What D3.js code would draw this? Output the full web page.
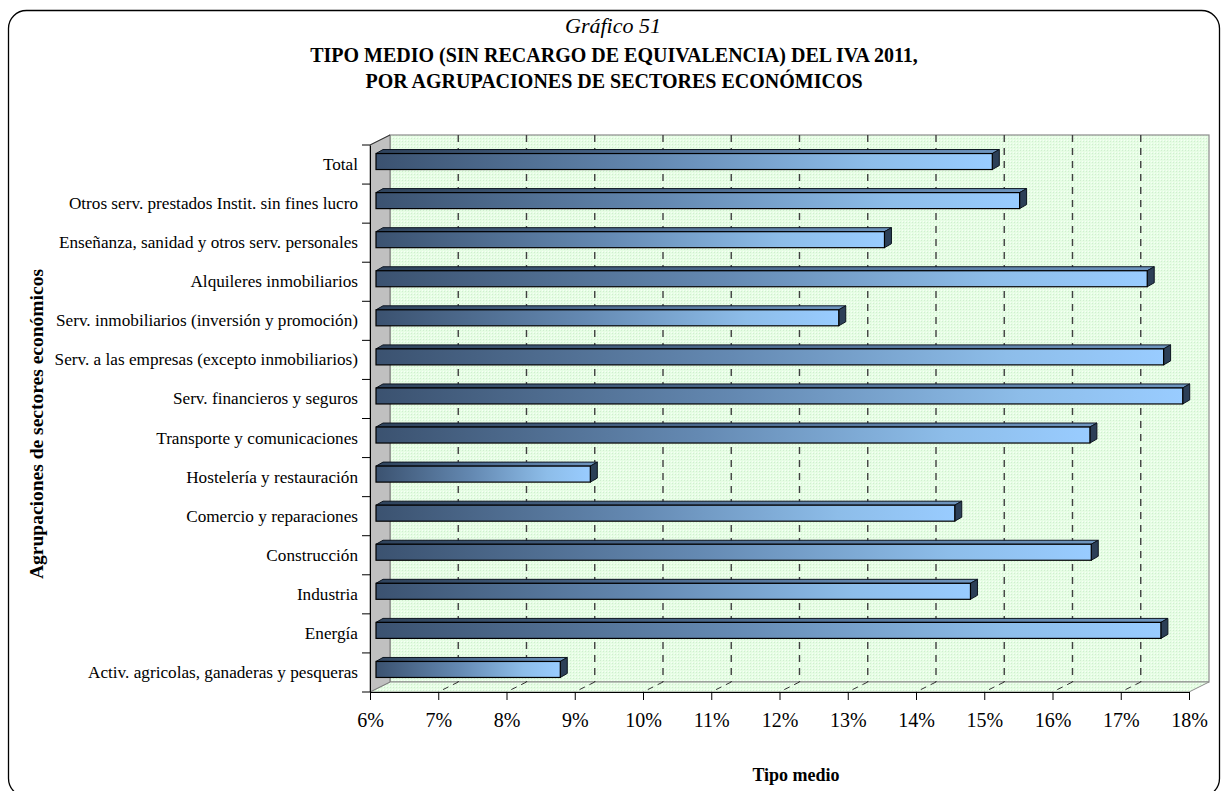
<!DOCTYPE html>
<html>
<head>
<meta charset="utf-8">
<script src="https://cdn.jsdelivr.net/npm/d3@7"></script>
<style>
  body { margin: 0; background: #fff; }
  svg { display: block; font-family: "Liberation Serif", "Times New Roman", serif; }
</style>
</head>
<body>
<svg id="chart" width="1229" height="791"></svg>
<script>
const categories = [
  "Total",
  "Otros serv. prestados Instit. sin fines lucro",
  "Enseñanza, sanidad y otros serv. personales",
  "Alquileres inmobiliarios",
  "Serv. inmobiliarios (inversión y promoción)",
  "Serv. a las empresas (excepto inmobiliarios)",
  "Serv. financieros y seguros",
  "Transporte y comunicaciones",
  "Hostelería y restauración",
  "Comercio y reparaciones",
  "Construcción",
  "Industria",
  "Energía",
  "Activ. agricolas, ganaderas y pesqueras"
];
const tipoMedio = [15.03, 15.43, 13.45, 17.30, 12.78, 17.54, 17.82, 16.46, 9.14, 14.48, 16.48, 14.71, 17.50, 8.70];
const xTicks = [6, 7, 8, 9, 10, 11, 12, 13, 14, 15, 16, 17, 18];

const svg = d3.select("#chart");

// front plane of the 3d box
const plotL = 370, plotR = 1189, plotT = 145, plotB = 692;
const depthX = 20, depthY = -10;       // full wall depth
const barOffX = 6, barOffY = -3;       // bar front plane inside the box
const barDX = 7, barDY = -4;           // bar thickness
const barH = 16;

const x = d3.scaleLinear().domain([6, 18]).range([plotL, plotR]);
const y = d3.scaleBand().domain(categories).range([plotT, plotB]);

const defs = svg.append("defs");
const pat = defs.append("pattern").attr("id", "dots").attr("patternUnits", "userSpaceOnUse")
  .attr("width", 3).attr("height", 3);
pat.append("rect").attr("width", 3).attr("height", 3).attr("fill", "#e6fde4");
pat.append("rect").attr("width", 1).attr("height", 1).attr("fill", "#cfeecf");
pat.append("rect").attr("x", 2).attr("y", 2).attr("width", 1).attr("height", 1).attr("fill", "#f6fff6");

function grad(id, stops) {
  const g = defs.append("linearGradient").attr("id", id).attr("x1", 0).attr("x2", 1).attr("y1", 0).attr("y2", 0);
  stops.forEach(([o, c]) => g.append("stop").attr("offset", o).attr("stop-color", c));
}
grad("barFront", [[0, "#3b5270"], [0.45, "#6489b2"], [0.8, "#8dbde9"], [1, "#99ccff"]]);
grad("barTop", [[0, "#2f435c"], [0.5, "#4f6e93"], [1, "#6f96c0"]]);

// outer frame
svg.append("rect").attr("x", 8.5).attr("y", 10.5).attr("width", 1211).attr("height", 786)
  .attr("rx", 18).attr("fill", "none").attr("stroke", "#000").attr("stroke-width", 1.3);

// titles
svg.append("text").attr("x", 613).attr("y", 33).attr("text-anchor", "middle")
  .attr("font-style", "italic").attr("font-size", 22).text("Gráfico 51");
svg.append("text").attr("x", 614).attr("y", 62).attr("text-anchor", "middle")
  .attr("font-weight", "bold").attr("font-size", 20)
  .text("TIPO MEDIO (SIN RECARGO DE EQUIVALENCIA) DEL IVA 2011,");
svg.append("text").attr("x", 614).attr("y", 88).attr("text-anchor", "middle")
  .attr("font-weight", "bold").attr("font-size", 20)
  .text("POR AGRUPACIONES DE SECTORES ECONÓMICOS");

// back wall
svg.append("rect")
  .attr("x", plotL + depthX).attr("y", plotT + depthY)
  .attr("width", plotR - plotL).attr("height", plotB - plotT)
  .attr("fill", "url(#dots)").attr("stroke", "#8c8c8c").attr("stroke-width", 1.2);

// floor
svg.append("path")
  .attr("d", `M${plotL},${plotB}L${plotR},${plotB}L${plotR + depthX},${plotB + depthY}L${plotL + depthX},${plotB + depthY}Z`)
  .attr("fill", "url(#dots)").attr("stroke", "#8c8c8c").attr("stroke-width", 1);

// left wall
svg.append("path")
  .attr("d", `M${plotL},${plotT}L${plotL + depthX},${plotT + depthY}L${plotL + depthX},${plotB + depthY}L${plotL},${plotB}Z`)
  .attr("fill", "#c0c0c0").attr("stroke", "#7a7a7a").attr("stroke-width", 1);

// gridlines on back wall and floor
const grid = xTicks.slice(1, -1);
svg.append("g").selectAll("line").data(grid).join("line")
  .attr("x1", d => x(d) + depthX).attr("x2", d => x(d) + depthX)
  .attr("y1", plotT + depthY).attr("y2", plotB + depthY)
  .attr("stroke", "#404040").attr("stroke-width", 1.4).attr("stroke-dasharray", "7,6");
svg.append("g").selectAll("line").data(grid).join("line")
  .attr("x1", d => x(d) + depthX).attr("x2", d => x(d))
  .attr("y1", plotB + depthY).attr("y2", plotB)
  .attr("stroke", "#333").attr("stroke-width", 1).attr("stroke-dasharray", "6,5");

// bars
const bars = svg.append("g").selectAll("g").data(categories).join("g");
bars.each(function (c, i) {
  const g = d3.select(this);
  const x0 = x(6) + barOffX;
  const x1 = x(tipoMedio[i]) + barOffX;
  const y0 = y(c) + (y.bandwidth() - barH) / 2 + barOffY;
  const y1 = y0 + barH;
  g.append("path")
    .attr("d", `M${x0},${y0}L${x0 + barDX},${y0 + barDY}L${x1 + barDX},${y0 + barDY}L${x1},${y0}Z`)
    .attr("fill", "url(#barTop)").attr("stroke", "#0d1520").attr("stroke-width", 1);
  g.append("path")
    .attr("d", `M${x1},${y0}L${x1 + barDX},${y0 + barDY}L${x1 + barDX},${y1 + barDY}L${x1},${y1}Z`)
    .attr("fill", "#2c3f57").attr("stroke", "#0d1520").attr("stroke-width", 1);
  g.append("rect")
    .attr("x", x0).attr("y", y0).attr("width", x1 - x0).attr("height", barH)
    .attr("fill", "url(#barFront)").attr("stroke", "#000").attr("stroke-width", 1.2);
});

// left axis
const yAxis = svg.append("g").attr("transform", `translate(${plotL},0)`)
  .call(d3.axisLeft(y).tickSize(0).tickPadding(12));
yAxis.select(".domain").attr("stroke", "#000");
yAxis.selectAll("text").attr("font-size", 17.2).attr("font-family", "Liberation Serif").attr("fill", "#000");
svg.append("g").selectAll("line").data(d3.range(categories.length + 1)).join("line")
  .attr("x1", plotL - 8).attr("x2", plotL)
  .attr("y1", i => plotT + i * y.step()).attr("y2", i => plotT + i * y.step())
  .attr("stroke", "#000");
svg.append("line").attr("x1", plotL).attr("y1", plotT).attr("x2", plotL + depthX).attr("y2", plotT + depthY)
  .attr("stroke", "#333");

// bottom axis
const xAxis = svg.append("g").attr("transform", `translate(0,${plotB})`)
  .call(d3.axisBottom(x).tickValues(xTicks).tickFormat(d => d + "%").tickSize(8).tickPadding(13).tickSizeOuter(0));
xAxis.select(".domain").attr("stroke", "#000");
xAxis.selectAll("text").attr("font-size", 20).attr("font-family", "Liberation Serif").attr("fill", "#000");

// axis titles
svg.append("text").attr("x", 796).attr("y", 781).attr("text-anchor", "middle")
  .attr("font-weight", "bold").attr("font-size", 18).text("Tipo medio");
svg.append("text").attr("transform", "translate(43,424) rotate(-90)").attr("text-anchor", "middle")
  .attr("font-weight", "bold").attr("font-size", 19.5).text("Agrupaciones de sectores económicos");
</script>
</body>
</html>
